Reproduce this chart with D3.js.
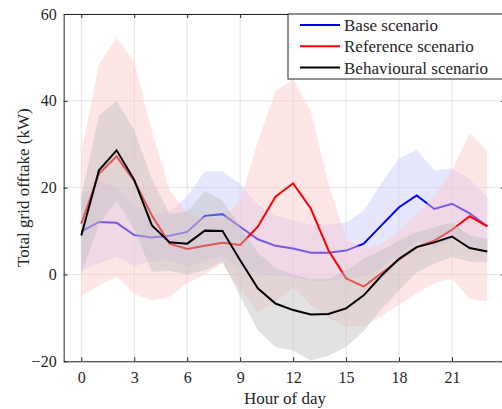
<!DOCTYPE html>
<html>
<head>
<meta charset="utf-8">
<script src="https://cdn.jsdelivr.net/npm/d3@7"></script>
<style>
  body { margin: 0; background: #fff; }
  text { font-family: "Liberation Serif", "Times New Roman", serif; fill: #262626; }
</style>
</head>
<body>
<svg></svg>
<script>
// Chart values
const hours = [0, 1, 2, 3, 4, 5, 6, 7, 8, 9, 10, 11, 12, 13, 14, 15, 16, 17, 18, 19, 20, 21, 22, 23];

const baseMean = [9.9, 12.1, 11.9, 9.1, 8.5, 8.9, 9.8, 13.5, 13.9, 11, 8.1, 6.6, 6, 5, 5, 5.5, 7.1, 11.3, 15.5, 18.2, 15.1, 16.3, 14.1, 11.1];
const baseUpper = [18, 21.6, 20, 16, 14, 14.5, 18, 23.8, 23.8, 20.9, 16, 13.5, 12.5, 11.5, 11.5, 12, 14.7, 21, 26.7, 28.7, 24, 24.4, 22, 17.8];
const baseLower = [1, 2.6, 4, 2, 3, 3.3, 1.6, 3.2, 4, 1.1, 0.2, -0.3, -0.5, -1.5, -1.5, -1, -0.5, 1.6, 4.3, 7.7, 6.2, 8.2, 6.2, 4.4];

const refMean = [11.7, 23.2, 27.2, 21.5, 13.6, 7.1, 5.9, 6.6, 7.3, 6.8, 11, 17.9, 21, 15.2, 5.6, -0.9, -2.8, 0.3, 3.4, 6.3, 7.8, 10.3, 13.4, 11.1];
const refUpper = [28, 48.4, 54.5, 49, 33, 19.5, 14, 13, 13, 17, 30.7, 42.2, 45, 37.6, 21, 8, 6, 7, 10, 14, 18, 24, 32.6, 28.4];
const refLower = [-5, -2.5, -0.5, -4.5, -6, -5.2, -2, 0, 2.5, -3.4, -8.7, -6.4, -3, -7, -10, -12, -12, -9.5, -7, -4.4, -2, -1, -5.6, -6.2];

const behMean = [9, 24, 28.6, 21.8, 11.3, 7.4, 7.1, 10.1, 10, 3.3, -3.2, -6.7, -8.2, -9.2, -9.1, -7.8, -4.8, -0.3, 3.6, 6.3, 7.4, 8.75, 6.1, 5.3];
const behUpper = [18, 36.6, 40, 33.2, 22, 14, 14.5, 19.3, 17, 11, 5, 1.5, 0, -1, -1, 1, 3.7, 5.5, 7.8, 9.7, 10.9, 12, 9, 8.2];
const behLower = [0, 11.4, 17, 10.4, 0.6, 0.8, 0, 1, 3, -5, -12.9, -16.7, -17.5, -19.8, -18.7, -16.7, -13, -8, -3.7, 0.5, 2.5, 4, 3, 2.8];

const xTicks = [0, 3, 6, 9, 12, 15, 18, 21];
const yTicks = [-20, 0, 20, 40, 60];
const legendLabels = ["Base scenario", "Reference scenario", "Behavioural scenario"];
const lineColors = ["#0000ff", "#ff0000", "#000000"];

const width = 502;
const height = 409;

const svg = d3.select("svg").attr("width", width).attr("height", height);

// Scales: hour 0 sits just right of the left frame, the frame runs -1..24
const x = d3.scaleLinear().domain([-1, 24]).range([63.65, 504.95]);
const y = d3.scaleLinear().domain([-20, 60]).range([361.3, 14]);

// Grid
svg.append("g")
  .selectAll("line")
  .data(xTicks)
  .join("line")
  .attr("x1", (d) => x(d))
  .attr("x2", (d) => x(d))
  .attr("y1", y(60))
  .attr("y2", y(-20))
  .attr("stroke", "#e4e4e4");

svg.append("g")
  .selectAll("line")
  .data(yTicks)
  .join("line")
  .attr("x1", x(-1))
  .attr("x2", x(24))
  .attr("y1", (d) => y(d))
  .attr("y2", (d) => y(d))
  .attr("stroke", "#e4e4e4");

// Builders for lines and bands
const line = (vals) =>
  d3.line().x((d, i) => x(hours[i])).y((d) => y(d))(vals);

const band = (upper, lower) =>
  d3.area()
    .x((d, i) => x(hours[i]))
    .y0((d, i) => y(lower[i]))
    .y1((d) => y(d))(upper);

const plot = svg.append("g");

// Drawing order matters for how the translucent bands tint the lines
plot.append("path")
  .attr("d", band(baseUpper, baseLower))
  .attr("fill", "rgb(200,200,255)")
  .attr("fill-opacity", 0.45);

plot.append("path")
  .attr("d", line(baseMean))
  .attr("fill", "none")
  .attr("stroke", lineColors[0])
  .attr("stroke-width", 2);

plot.append("path")
  .attr("d", band(refUpper, refLower))
  .attr("fill", "rgb(255,200,200)")
  .attr("fill-opacity", 0.45);

plot.append("path")
  .attr("d", line(refMean))
  .attr("fill", "none")
  .attr("stroke", lineColors[1])
  .attr("stroke-width", 2);

plot.append("path")
  .attr("d", band(behUpper, behLower))
  .attr("fill", "rgb(190,190,190)")
  .attr("fill-opacity", 0.45);

plot.append("path")
  .attr("d", line(behMean))
  .attr("fill", "none")
  .attr("stroke", lineColors[2])
  .attr("stroke-width", 2);

// Axes (ticks point inward, box on)
const axisColor = "#262626";

const xAxis = svg.append("g")
  .attr("transform", `translate(0,${y(-20)})`)
  .call(d3.axisBottom(x).tickValues(xTicks).tickSizeInner(-4).tickSizeOuter(0).tickPadding(10));

const yAxis = svg.append("g")
  .attr("transform", `translate(${x(-1)},0)`)
  .call(d3.axisLeft(y).tickValues(yTicks).tickSizeInner(-4).tickSizeOuter(0).tickPadding(7));

svg.append("g")
  .attr("transform", `translate(0,${y(60)})`)
  .call(d3.axisTop(x).tickValues(xTicks).tickSizeInner(-4).tickSizeOuter(0).tickFormat(""));

svg.append("g")
  .attr("transform", `translate(${x(24)},0)`)
  .call(d3.axisRight(y).tickValues(yTicks).tickSizeInner(-4).tickSizeOuter(0).tickFormat(""));

svg.selectAll(".domain").attr("stroke", axisColor);
svg.selectAll(".tick line").attr("stroke", axisColor);
svg.selectAll(".tick text")
  .style("font-family", "'Liberation Serif', 'Times New Roman', serif")
  .style("font-size", "16px")
  .attr("fill", axisColor);

// Axis titles
svg.append("text")
  .attr("x", 285)
  .attr("y", 404)
  .attr("text-anchor", "middle")
  .style("font-size", "17px")
  .text("Hour of day");

svg.append("text")
  .attr("transform", `translate(29, ${y(20)}) rotate(-90)`)
  .attr("text-anchor", "middle")
  .style("font-size", "17px")
  .text("Total grid offtake (kW)");

// Legend
const legend = svg.append("g").attr("transform", "translate(288,14)");

legend.append("rect")
  .attr("width", 216)
  .attr("height", 65)
  .attr("fill", "#fff")
  .attr("stroke", axisColor)
  .attr("stroke-width", 1);

const rows = legend.selectAll("g.row")
  .data(legendLabels)
  .join("g")
  .attr("class", "row")
  .attr("transform", (d, i) => `translate(0,${11 + i * 21.3})`);

rows.append("line")
  .attr("x1", 12)
  .attr("x2", 52)
  .attr("stroke", (d, i) => lineColors[i])
  .attr("stroke-width", 2);

rows.append("text")
  .attr("x", 56)
  .attr("dy", "0.35em")
  .style("font-size", "17px")
  .text((d) => d);
</script>
</body>
</html>
